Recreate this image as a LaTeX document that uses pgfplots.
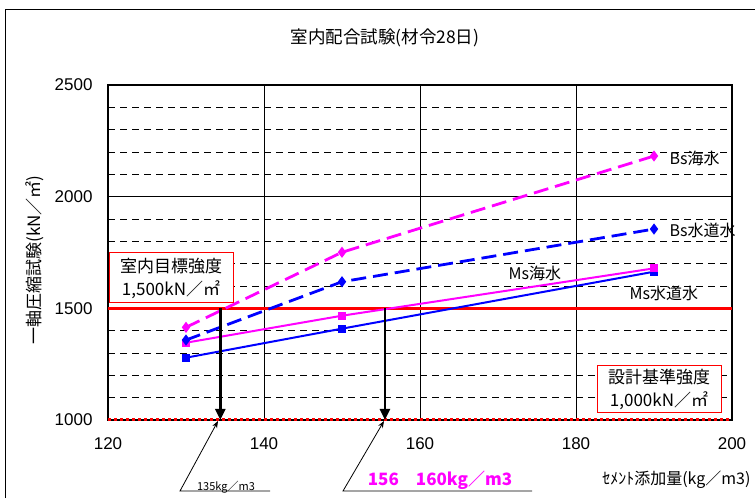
\documentclass[border=0pt]{standalone}
\usepackage{fontspec}
\setmainfont{Liberation Sans}
\newfontfamily\jp{Noto Sans CJK JP}
\usepackage{pgfplots}
\pgfplotsset{compat=1.18}
\usetikzlibrary{arrows.meta}
\definecolor{mag}{RGB}{255,0,255}
\definecolor{blu}{RGB}{0,0,255}
\definecolor{rd}{RGB}{255,0,0}
\begin{document}
\begin{tikzpicture}[x=1pt,y=1pt]
\useasboundingbox (0,0) rectangle (755,498);
\draw[line width=1pt] (5,0) -- (5,488) -- (756,488);
\begin{axis}[
 at={(108pt,78pt)}, anchor=south west,
 scale only axis, width=624pt, height=335pt,
 xmin=120, xmax=200, ymin=1000, ymax=2500,
 xtick={120,140,...,200}, ytick={1000,1500,...,2500},
 minor y tick num=4,
 axis line style={line width=1.2pt},
 xmajorgrids, ymajorgrids, yminorgrids,
 major grid style={black, line width=0.6pt},
 minor grid style={black, line width=0.6pt, dash pattern=on 7pt off 5pt},
 tick align=inside, ytick pos=left, xtick pos=bottom,
 major x tick style={draw=none},
 major tick length=6pt, minor tick length=6pt,
 tick style={black, line width=0.6pt},
 ticklabel style={font=\fontsize{17}{20}\selectfont},
 yticklabel style={xshift=-12pt},
 xticklabel style={yshift=-14pt},
 /pgf/number format/assume math mode=true,
 /pgf/number format/1000 sep={},
 clip=false,
]
% reference lines
\addplot[rd, line width=3.5pt] coordinates {(120,1500) (200,1500)};
\addplot[rd, line width=3pt, dash pattern=on 3pt off 3pt] coordinates {(120,1000) (200,1000)};
% Ms水道水
\addplot[blu, line width=2pt, mark=square*, mark size=3pt] coordinates {(130,1279) (150,1409) (190,1664)};
% Ms海水
\addplot[mag, line width=2pt, mark=square*, mark size=3pt] coordinates {(130,1346) (150,1467) (190,1679)};
% Bs水道水
\addplot[blu, line width=2.8pt, dash pattern=on 15pt off 7pt, mark=diamond*, mark size=3.3pt, mark options={solid}] coordinates {(130,1358) (150,1619) (190,1855)};
% Bs海水
\addplot[mag, line width=2.8pt, dash pattern=on 15pt off 7pt, mark=diamond*, mark size=3.3pt, mark options={solid}] coordinates {(130,1415) (150,1751) (190,2182)};
% arrows
\draw[black, line width=2.5pt, -{Triangle[length=11pt,width=10pt]}] (axis cs:134.4,1500) -- (axis cs:134.4,1000);
\draw[black, line width=2.5pt, -{Triangle[length=11pt,width=10pt]}] (axis cs:155.5,1500) -- (axis cs:155.5,1000);
\end{axis}
% title and labels
\node[font=\jp\fontsize{17.5}{20}\selectfont] at (385,460) {室内配合試験(材令28日)};
\node[rotate=90, font=\jp\fontsize{17}{20}\selectfont] at (35,238) {一軸圧縮試験(kN／㎡)};
\node[anchor=east, font=\jp\fontsize{16}{20}\selectfont] at (754,18) {ｾﾒﾝﾄ添加量(kg／m3)};
% boxes
\node[draw=rd, line width=1pt, fill=white, minimum width=124pt, minimum height=50pt, align=center, inner sep=1pt, font=\jp\fontsize{17}{23}\selectfont] at (171,220) {室内目標強度\\1,500kN／㎡};
\node[draw=rd, line width=1pt, fill=white, minimum width=124pt, minimum height=47pt, align=center, inner sep=1pt, font=\jp\fontsize{17}{23}\selectfont] at (659,108.5) {設計基準強度\\1,000kN／㎡};
% series labels
\node[anchor=west, font=\jp\fontsize{16}{20}\selectfont] at (666,340) {Bs海水};
\node[anchor=west, font=\jp\fontsize{16}{20}\selectfont] at (666,268) {Bs水道水};
\node[anchor=west, font=\jp\fontsize{16}{20}\selectfont] at (505,225) {Ms海水};
\node[anchor=west, font=\jp\fontsize{16}{20}\selectfont] at (626,205) {Ms水道水};
% lower annotations
\draw[line width=0.8pt, -{Stealth[length=7pt]}] (270,7) -- (180,7) -- (218,77);
\node[font=\jp\fontsize{11}{12}\selectfont] at (226,11) {135kg／m3};
\draw[line width=0.8pt, -{Stealth[length=7pt]}] (532,7) -- (343,7) -- (384,77);
\node[font=\jp\bfseries\fontsize{17}{20}\selectfont, text=mag] at (440,18) {156\quad 160kg／m3};
\end{tikzpicture}
\end{document}
